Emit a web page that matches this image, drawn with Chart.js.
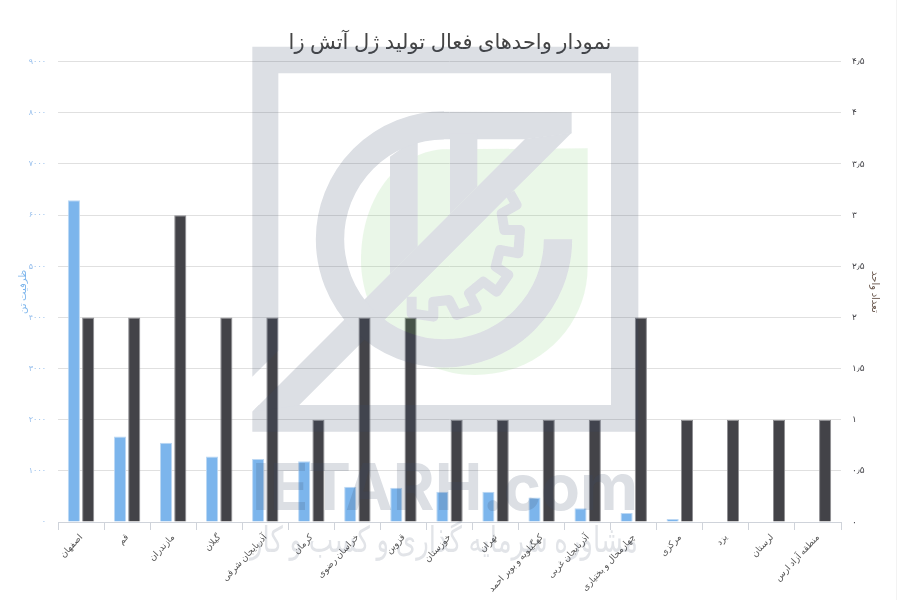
<!DOCTYPE html>
<html lang="fa">
<head>
<meta charset="utf-8">
<title>نمودار واحدهای فعال تولید ژل آتش زا</title>
<script src="https://cdn.jsdelivr.net/npm/chart.js@4"></script>
<style>
  html, body { margin: 0; padding: 0; background: #fff; }
  #wrap { position: relative; width: 900px; height: 600px; overflow: hidden; }
  #wrap:after { content: ""; position: absolute; left: 896px; top: 0; width: 1px; height: 600px; background: #f3f3f3; }
  #chart { position: absolute; left: 0; top: 0; }
  #mark { position: absolute; left: 0; top: 0; pointer-events: none; }
</style>
</head>
<body>
<div id="wrap">
  <canvas id="chart" width="900" height="600"></canvas>
  <!-- site watermark sits on top of the chart -->
  <svg id="mark" width="900" height="600" viewBox="0 0 900 600">
    <defs>
      <g id="logo">
        <g>
          <polygon points="22,1010 22,20 1180,20 1180,1175 22,1175 22,1115 42,1095 1098,1095 1098,100 100,100 100,932"/>
          <polygon points="22,1115 840,297 980,278 162,1096"/>
          <polygon points="597,215 980,217 980,280 840,298 597,298"/>
          <polygon points="435,350 518,290 518,620 435,702"/>
          <polygon points="615,280 697,280 697,440 615,522"/>
        </g>
        <path fill="none" stroke="currentColor" stroke-width="85" d="M939,598 A342,342 0 1 1 597,256"/>
        <path fill="none" stroke="currentColor" stroke-width="30" stroke-linejoin="round" d="M795,460 L815,495 L770,520 L778,570 L825,570 L820,640 L765,630 L752,680 L790,705 L755,755 L715,725 L672,760 L695,805 L635,825 L612,780 L565,785 L565,830 L500,820 L500,770"/>
      </g>
      <mask id="notLogo" maskUnits="userSpaceOnUse" x="0" y="0" width="1300" height="1300">
        <rect x="0" y="0" width="1300" height="1300" fill="#fff"/>
        <use href="#logo" fill="#000" color="#000"/>
      </mask>
    </defs>
    <g transform="translate(245,40) scale(0.33333)">
      <path fill="#5bc24a" fill-opacity="0.13" mask="url(#notLogo)" d="M590,328 L1028,325 L1028,680 C1028,860 880,1005 690,1005 C500,1005 348,850 348,660 C348,480 450,340 590,328 Z"/>
      <use href="#logo" fill="#3c4d69" color="#3c4d69" opacity="0.18"/>
    </g>
    <text x="252" y="510" opacity="0.18" fill="#3c4d69" font-family="Inter" font-weight="700" font-size="64" textLength="386" lengthAdjust="spacingAndGlyphs">IETARH.com</text>
    <text x="444" y="552" opacity="0.15" fill="#3c4d69" text-anchor="middle" direction="rtl" font-family="'Noto Sans','DejaVu Sans'" font-size="36" textLength="388" lengthAdjust="spacingAndGlyphs">مشاوره سرمایه گذاری و کسب و کار</text>
  </svg>
</div>
<script>
const provinces = ['اصفهان', 'قم', 'مازندران', 'گیلان', 'آذربایجان شرقی', 'کرمان', 'خراسان رضوی', 'قزوین', 'خوزستان', 'تهران', 'کهگیلویه و بویر احمد', 'آذربایجان غربی', 'چهارمحال و بختیاری', 'مرکزی', 'یزد', 'لرستان', 'منطقه آزاد ارس'];
const capacity = [6290, 1670, 1550, 1280, 1230, 1190, 690, 670, 590, 590, 480, 270, 175, 60, 0, 0, 0];
const units = [2, 2, 3, 2, 2, 1, 2, 2, 1, 1, 1, 1, 2, 1, 1, 1, 1];
const capacityTicks = ['۰', '۱۰۰۰', '۲۰۰۰', '۳۰۰۰', '۴۰۰۰', '۵۰۰۰', '۶۰۰۰', '۷۰۰۰', '۸۰۰۰', '۹۰۰۰'];
const unitTicks = ['۰', '۰٫۵', '۱', '۱٫۵', '۲', '۲٫۵', '۳', '۳٫۵', '۴', '۴٫۵'];

Chart.defaults.font.family = "'Noto Sans', 'DejaVu Sans', sans-serif";

new Chart(document.getElementById('chart').getContext('2d'), {
  type: 'bar',
  data: {
    labels: provinces,
    datasets: [
      { label: 'ظرفیت تن', data: capacity, yAxisID: 'capacity', backgroundColor: '#7cb5ec', borderColor: '#bcd8f4', borderWidth: 1 },
      { label: 'تعداد واحد', data: units, yAxisID: 'units', backgroundColor: '#434348', borderColor: '#8f8f93', borderWidth: 1 }
    ]
  },
  options: {
    responsive: false,
    animation: false,
    categoryPercentage: 0.62,
    barPercentage: 0.85,
    layout: { padding: 0 },
    plugins: {
      legend: { display: false },
      tooltip: { enabled: false },
      title: {
        display: true,
        text: 'نمودار واحدهای فعال تولید ژل آتش زا',
        color: '#444444',
        font: { size: 21, weight: 'normal' },
        padding: { top: 30, bottom: 6.5 }
      }
    },
    scales: {
      x: {
        afterFit: scale => { scale.height = 78; },
        border: { color: '#cfd3da' },
        grid: { drawOnChartArea: false, color: '#cfd3da', tickLength: 8 },
        ticks: { color: '#555555', font: { size: 9 }, minRotation: 47, maxRotation: 47, autoSkip: false, padding: 2 }
      },
      capacity: {
        position: 'left',
        min: 0,
        max: 9000,
        afterFit: scale => { scale.width = 58; },
        border: { display: false },
        grid: { color: '#e0e0e0', drawTicks: false },
        ticks: { stepSize: 1000, color: '#94bdec', font: { size: 8 }, padding: 12, callback: (v, i) => capacityTicks[i] },
        title: { display: true, text: 'ظرفیت تن', color: '#7cb5ec', font: { size: 10 }, padding: { top: 17, bottom: 0 } }
      },
      units: {
        position: 'right',
        min: 0,
        max: 4.5,
        afterFit: scale => { scale.width = 59; },
        border: { display: false },
        grid: { drawOnChartArea: false, drawTicks: false },
        ticks: { stepSize: 0.5, color: '#434348', font: { size: 9 }, padding: 11, callback: (v, i) => unitTicks[i] },
        title: { display: true, text: 'تعداد واحد', color: '#6b5a50', font: { size: 10 }, padding: { top: 19, bottom: 0 } }
      }
    }
  }
});
</script>
</body>
</html>
